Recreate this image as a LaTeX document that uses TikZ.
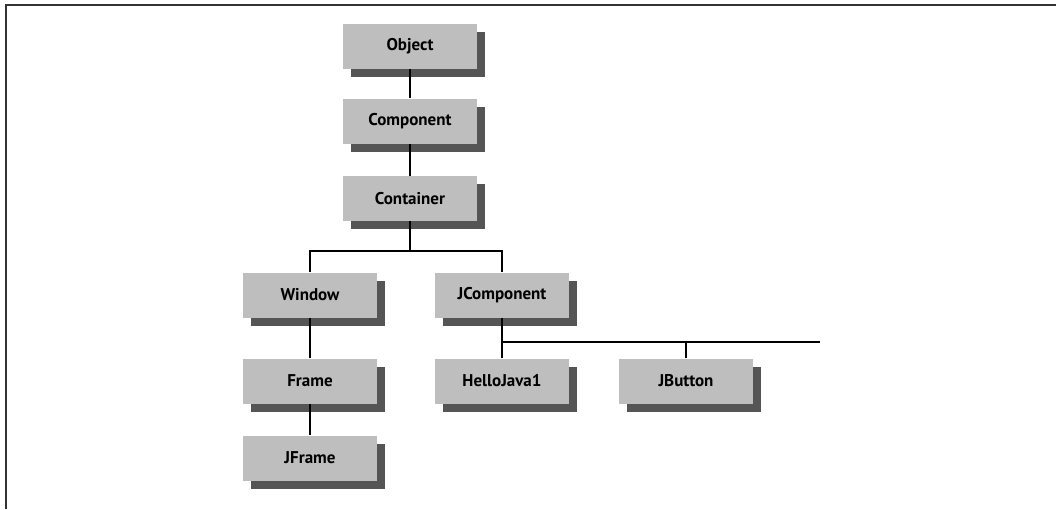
\documentclass[tikz,border=0pt]{standalone}
\usepackage{fontspec}
\setmainfont{PT Sans}
\usetikzlibrary{shadows}
\definecolor{boxgray}{HTML}{BEBEBE}
\definecolor{shadowgray}{HTML}{555555}
\definecolor{framegray}{HTML}{333333}
\begin{document}
\begin{tikzpicture}[x=1pt,y=-1pt,
  cls/.style={fill=boxgray, minimum width=134pt, minimum height=45pt, inner sep=0pt,
    font=\fontsize{17}{20}\selectfont\bfseries,
    drop shadow={shadow xshift=8pt, shadow yshift=-8pt, fill=shadowgray, opacity=1}},
  conn/.style={line width=2.2pt, black}]
\useasboundingbox (0,0) rectangle (1056,509);
\draw[line width=2pt, framegray] (6,509) -- (6,5) -- (1056,5);

\node[cls] (object) at (410,46) {Object};
\node[cls] (component) at (410,121) {Component};
\node[cls] (container) at (410,198.5) {Container};
\node[cls] (window) at (310,295) {Window};
\node[cls] (jcomp) at (502,295) {JComponent};
\node[cls] (frame) at (310,381) {Frame};
\node[cls] (jframe) at (310,458) {JFrame};
\node[cls] (hello) at (502,381) {HelloJava1};
\node[cls] (jbutton) at (686,381) {JButton};

\coordinate (cb) at (410,251);
\coordinate (jb) at (502,342);
\coordinate (jend) at (820,342);

\draw[conn] (object) -- (component);
\draw[conn] (component) -- (container);
\draw[conn] (container) -- (cb);
\draw[conn] (cb) -| (window);
\draw[conn] (cb) -| (jcomp);
\draw[conn] (window) -- (frame);
\draw[conn] (frame) -- (jframe);
\draw[conn] (jcomp) -- (hello);
\draw[conn] (jb) -- (jend);
\draw[conn] (jbutton.north) -- (jbutton.north |- jb);
\end{tikzpicture}
\end{document}
